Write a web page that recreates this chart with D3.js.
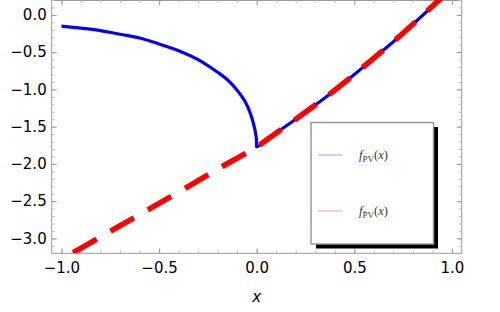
<!DOCTYPE html>
<html>
<head>
<meta charset="utf-8">
<script src="https://cdn.jsdelivr.net/npm/d3@7"></script>
<style>
  body { margin: 0; background: #fff; }
  svg { display: block; }
  .tick line { stroke: #999; }
  .minor .tick line { stroke: #bbb; }
</style>
</head>
<body>
<div id="chart"></div>
<script>
// values
const xLeft  = [-1, -0.9, -0.8, -0.7, -0.6, -0.5, -0.4, -0.3, -0.2, -0.15, -0.1, -0.06, -0.03, -0.01, -0.003, -0.0005, 0];
const pvLeft = [-0.15, -0.178, -0.21, -0.26, -0.31, -0.39, -0.48, -0.60, -0.77, -0.87, -1.01, -1.16, -1.34, -1.53, -1.635, -1.72, -1.77];
const xRedLeft = [-1, -0.8, -0.6, -0.4, -0.2];
const redLeft  = [-3.28, -2.98, -2.68, -2.38, -2.07];
const xRight = [0, 0.1, 0.2, 0.3, 0.4, 0.5, 0.6, 0.7, 0.8, 0.9, 1.0];
const fRight = [-1.77, -1.585, -1.40, -1.21, -1.01, -0.80, -0.58, -0.36, -0.125, 0.115, 0.36];
const xTicks = [-1, -0.5, 0, 0.5, 1];
const yTicks = [0, -0.5, -1, -1.5, -2, -2.5, -3];

const W = 500, H = 312;
const pLeft = 51.7, pRight = 461.7, pTop = 0, pBottom = 253.3;

const svg = d3.select("#chart").append("svg")
  .attr("width", W).attr("height", H);

const x = d3.scaleLinear().domain([-1.05, 1.05]).range([pLeft, pRight]);
const y = d3.scaleLinear().domain([-3.2, 0.2]).range([pBottom, pTop]);

const xMinor = d3.range(-10, 11).map(d => d / 10);
const yMinor = d3.range(-32, 3).map(d => d / 10);
const fmt = d => (d < 0 ? "\u2212" : "") + Math.abs(d).toFixed(1);

svg.append("defs").append("clipPath").attr("id", "plot")
  .append("rect").attr("x", pLeft).attr("y", pTop)
  .attr("width", pRight - pLeft).attr("height", pBottom - pTop);

// frame
svg.append("rect")
  .attr("x", pLeft).attr("y", pTop + 0.5)
  .attr("width", pRight - pLeft).attr("height", pBottom - pTop - 0.5)
  .attr("fill", "none").attr("stroke", "#999").attr("stroke-width", 1);

// minor ticks (all four sides)
svg.append("g").attr("class", "minor").attr("transform", `translate(0,${pBottom})`)
  .call(d3.axisBottom(x).tickValues(xMinor).tickSize(-3).tickFormat(""));
svg.append("g").attr("class", "minor").attr("transform", `translate(0,${pTop})`)
  .call(d3.axisTop(x).tickValues(xMinor).tickSize(-3).tickFormat(""));
svg.append("g").attr("class", "minor").attr("transform", `translate(${pLeft},0)`)
  .call(d3.axisLeft(y).tickValues(yMinor).tickSize(-3).tickFormat(""));
svg.append("g").attr("class", "minor").attr("transform", `translate(${pRight},0)`)
  .call(d3.axisRight(y).tickValues(yMinor).tickSize(-3).tickFormat(""));

// major ticks
const xAxis = svg.append("g").attr("transform", `translate(0,${pBottom})`)
  .call(d3.axisBottom(x).tickValues(xTicks).tickSize(-5).tickPadding(9).tickFormat(fmt));
svg.append("g").attr("transform", `translate(0,${pTop})`)
  .call(d3.axisTop(x).tickValues(xTicks).tickSize(-5).tickFormat(""));
const yAxis = svg.append("g").attr("transform", `translate(${pLeft},0)`)
  .call(d3.axisLeft(y).tickValues(yTicks).tickSize(-5).tickPadding(5).tickFormat(fmt));
svg.append("g").attr("transform", `translate(${pRight},0)`)
  .call(d3.axisRight(y).tickValues(yTicks).tickSize(-5).tickFormat(""));

svg.selectAll(".domain").remove();
[xAxis, yAxis].forEach(a => a.selectAll("text")
  .style("font-family", "'DejaVu Sans'")
  .style("font-size", "15px")
  .style("fill", "#000"));

// x axis title
svg.append("text")
  .attr("x", x(0)).attr("y", 301.5)
  .attr("text-anchor", "middle")
  .style("font-family", "'DejaVu Sans'")
  .style("font-size", "15px").style("font-style", "italic")
  .text("x");

const line = d3.line()
  .x(d => x(d[0])).y(d => y(d[1]))
  .curve(d3.curveCatmullRom.alpha(0.5));

const bluePts = xLeft.map((v, i) => [v, pvLeft[i]])
  .concat(xRight.slice(1).map((v, i) => [v, fRight[i + 1]]));
const redPts = xRedLeft.map((v, i) => [v, redLeft[i]])
  .concat(xRight.map((v, i) => [v, fRight[i]]));

const plot = svg.append("g").attr("clip-path", "url(#plot)");

plot.append("path")
  .attr("d", line(bluePts))
  .attr("fill", "none").attr("stroke", "#0000ff").attr("stroke-width", 3.2);

plot.append("path")
  .attr("d", line(redPts))
  .attr("fill", "none").attr("stroke", "#ff0000").attr("stroke-width", 5.5)
  .attr("stroke-dasharray", "27,16").attr("stroke-dashoffset", 29.5);

// legend
const lg = svg.append("g");
lg.append("rect")
  .attr("x", 316).attr("y", 127).attr("width", 122).attr("height", 121.5)
  .attr("fill", "#000");
lg.append("rect")
  .attr("x", 311).attr("y", 122.5).attr("width", 122.5).attr("height", 121.5)
  .attr("fill", "#fff").attr("stroke", "#999").attr("stroke-width", 1.5);

const entries = [
  {color: "#9999ff", sub: "PV", y: 155},
  {color: "#ff9999", sub: "P\u0304V", y: 211}
];
entries.forEach(e => {
  lg.append("line")
    .attr("x1", 318).attr("x2", 342).attr("y1", e.y).attr("y2", e.y)
    .attr("stroke", e.color).attr("stroke-width", 1);
  const t = lg.append("text")
    .attr("x", 359).attr("y", e.y + 4)
    .attr("font-family", "'Liberation Serif', 'DejaVu Serif', serif")
    .attr("font-size", 12.5).attr("fill", "#333");
  t.append("tspan").attr("font-style", "italic").text("f");
  t.append("tspan").attr("font-size", 9).attr("dy", 3).text(e.sub);
  t.append("tspan").attr("dy", -3).text("(");
  t.append("tspan").attr("font-style", "italic").text("x");
  t.append("tspan").text(")");
});
</script>
</body>
</html>
